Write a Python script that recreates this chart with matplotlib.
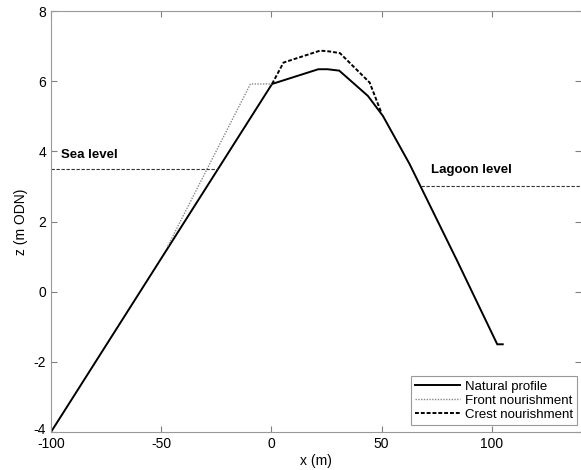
import matplotlib
matplotlib.use("Agg")
import matplotlib.pyplot as plt
import matplotlib.transforms as mtransforms

plt.rcParams['font.family'] = ['Liberation Sans', 'DejaVu Sans']
plt.rcParams['axes.unicode_minus'] = False

# Natural profile
nat_x = [-100, 0.3, 21.3, 25.5, 30.8, 43.8, 50.6, 62.7, 84.3, 102.5, 105]
nat_z = [-4.0, 5.92, 6.34, 6.34, 6.30, 5.58, 5.01, 3.64, 0.88, -1.50, -1.50]
# Front nourishment
front_x = [-47, -9.5, 0.3]
front_z = [1.30, 5.92, 5.92]
# Crest nourishment
crest_x = [0.3, 5.5, 22.1, 26.0, 31.1, 44.6, 49.9]
crest_z = [5.92, 6.53, 6.87, 6.85, 6.80, 5.96, 5.10]
# Water levels
sea_x = [-100, -24.4]
sea_z = [3.5, 3.5]
lagoon_x = [67.9, 140.5]
lagoon_z = [3.0, 3.0]

xticks = [-100, -50, 0, 50, 100]
yticks = [-4, -2, 0, 2, 4, 6, 8]

fig = plt.figure(figsize=(5.81, 4.70), dpi=100)
ax = fig.add_axes([51/581, 1-432/470, 1-51/581, (432-11)/470])

ax.plot(nat_x, nat_z, color='black', lw=1.4, label='Natural profile', solid_joinstyle='miter')
ax.plot(front_x, front_z, color='#888888', lw=1.0, ls=(0, (1, 1)), label='Front nourishment')
ax.plot(crest_x, crest_z, color='black', lw=1.4, ls=(0, (2, 1)), label='Crest nourishment')
ax.plot(sea_x, sea_z, color='#333333', lw=0.8, ls=(0, (3, 1.5)))
ax.plot(lagoon_x, lagoon_z, color='#333333', lw=0.8, ls=(0, (3, 1.5)))

ax.text(-95.5, 3.72, 'Sea level', fontsize=9.5, fontweight='bold', ha='left', va='bottom')
ax.text(72.5, 3.3, 'Lagoon level', fontsize=9.5, fontweight='bold', ha='left', va='bottom')

ax.set_xlim(-100, 140.5)
ax.set_ylim(-4, 8)
ax.set_xticks(xticks)
ax.set_yticks(yticks)
ax.tick_params(direction='in', top=True, right=True, length=4, width=0.8,
               color='#808080', labelsize=10)
for s in ['left', 'bottom', 'top']:
    ax.spines[s].set_color('#999999')
    ax.spines[s].set_linewidth(0.8)
ax.spines['right'].set_visible(False)
ax.set_xlabel('x (m)', fontsize=10, labelpad=2)
ax.set_ylabel('z (m ODN)', fontsize=10, labelpad=4)

# nudge the lowest y tick label up slightly so it does not collide with -100
lbl = ax.get_yticklabels()[0]
lbl.set_transform(lbl.get_transform() + mtransforms.ScaledTranslation(0, 4/100, fig.dpi_scale_trans))

leg = ax.legend(loc='lower right', bbox_to_anchor=((577-51)/530, (432-425)/421),
                fontsize=9.5, frameon=True, fancybox=False, framealpha=1,
                edgecolor='#999999', borderaxespad=0, borderpad=0.3,
                handlelength=3.4, handletextpad=0.4, labelspacing=0.15)
leg.get_frame().set_linewidth(0.8)

fig.savefig('out.png', dpi=100)
